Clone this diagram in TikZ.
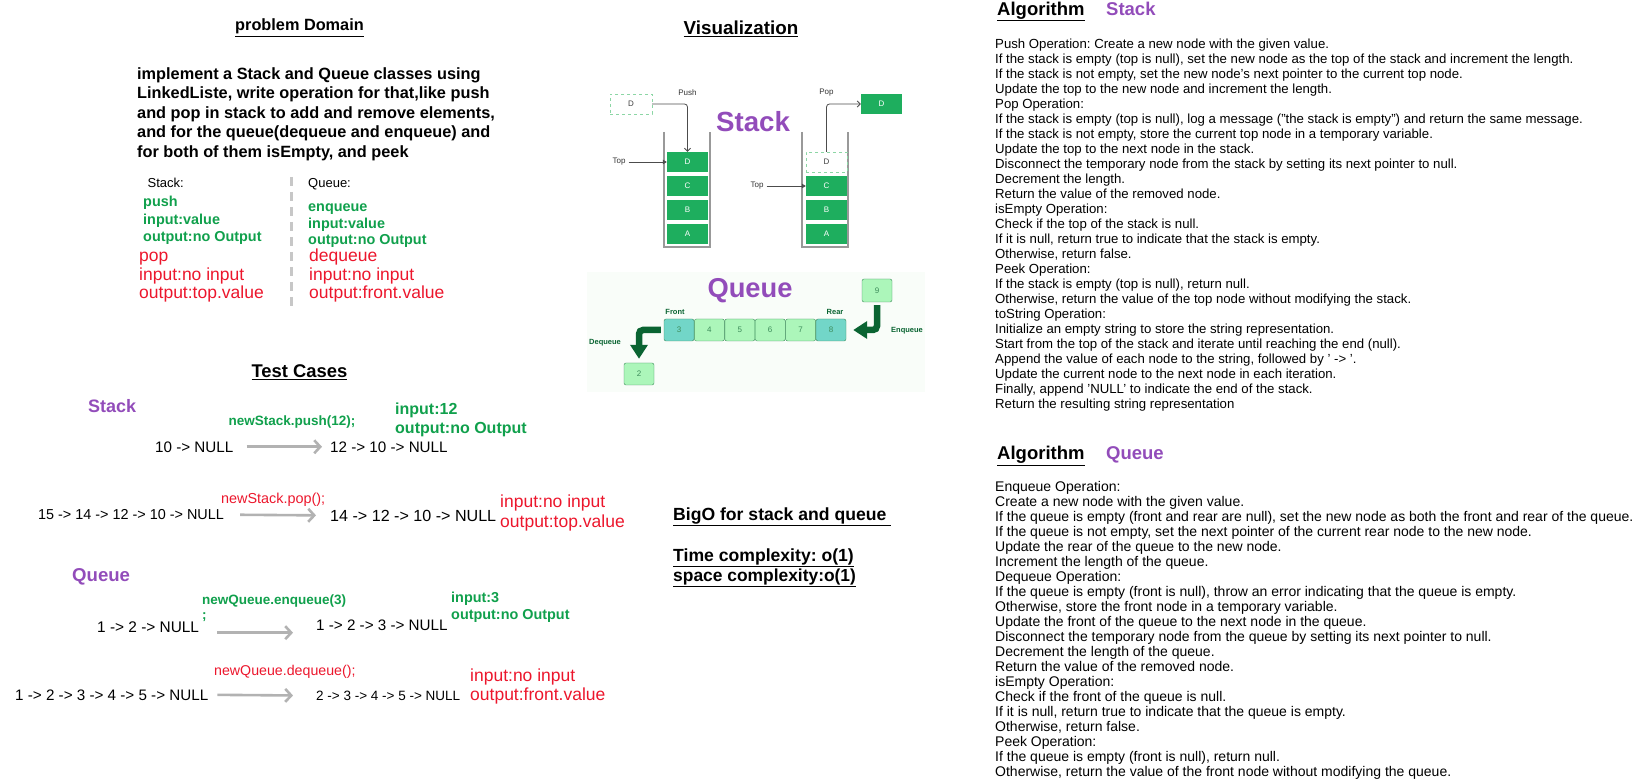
\documentclass[tikz,border=0pt]{standalone}
\usepackage{fontspec}
\setmainfont{Liberation Sans}
\usetikzlibrary{positioning,arrows.meta,calc}
\definecolor{pdGreen}{RGB}{16,160,76}
\definecolor{pdRed}{RGB}{236,22,44}
\definecolor{pdPurple}{RGB}{146,76,186}
\definecolor{vsGreen}{RGB}{30,174,94}
\definecolor{vsGhost}{RGB}{140,214,165}
\definecolor{qLight}{RGB}{172,246,186}
\definecolor{qTeal}{RGB}{114,214,200}
\definecolor{qEdge}{RGB}{60,140,90}
\definecolor{qDark}{RGB}{10,100,50}
\definecolor{qPanel}{RGB}{249,253,249}
\newcommand{\pdfs}[2]{\fontsize{#1}{#2}\selectfont}
\frenchspacing
\tikzset{
  pdtxt/.style={inner sep=0pt, anchor=base west},
  pdblock/.style={inner sep=0pt, anchor=north west, align=left},
  pdgreen/.style={pdtxt, text=pdGreen, font=\pdfs{14.4}{17}\bfseries},
  pdred/.style={pdtxt, text=pdRed, font=\pdfs{17.5}{19}},
  pdpurple/.style={pdtxt, text=pdPurple, font=\pdfs{18.5}{20}\bfseries},
  tcplain/.style={pdtxt, font=\pdfs{15.2}{17}},
  tcarrow/.style={draw=black!30, line width=2.6pt, -{Straight Barb[length=6pt,width=13pt]}},
  stkcell/.style={fill=vsGreen, minimum width=41pt, minimum height=20pt, inner sep=0pt,
                  text=white, font=\pdfs{8}{9}},
  stkghost/.style={stkcell, fill=white, draw=vsGhost, dashed, text=black!75},
  stkwall/.style={draw=black!40, line width=1.1pt},
  stklab/.style={inner sep=0pt, font=\pdfs{8}{9}, text=black!80},
  stkarrow/.style={draw=black!70, line width=0.8pt},
  qcell/.style={draw=qEdge, fill=qLight, rounded corners=2pt, minimum width=30pt,
                minimum height=22pt, inner sep=0pt, text=qEdge, font=\pdfs{8}{9}},
  qlab/.style={inner sep=0pt, text=qDark, font=\pdfs{7.5}{9}\bfseries},
  qarrow/.style={draw=qDark, line width=6.5pt, -{Triangle[length=14pt,width=17pt]}},
}

\begin{document}
\begin{tikzpicture}[x=1pt,y=-1pt]
  \useasboundingbox (0,0) rectangle (1636,783);

  % problem domain
  \node[pdtxt, anchor=base, font=\pdfs{16.3}{18}\bfseries] (pdTitle) at (299.5,31) {\underline{problem Domain}};
  \node[pdblock, font=\pdfs{16.3}{19.5}\bfseries] (pdText) at (137,67.3)
    {implement a Stack and Queue classes using\\
     LinkedListe, write operation for that,like push\\
     and pop in stack to add and remove elements,\\
     and for the queue(dequeue and enqueue) and\\
     for both of them isEmpty, and peek};
  \node[pdtxt, font=\pdfs{13}{15}] (pdStack) at (147.5,187.2) {Stack:};
  \node[pdgreen] (pdPush) at (143,206.6) {push};
  \node[pdgreen] (pdPushIn) at (143,224.3) {input:value};
  \node[pdgreen] (pdPushOut) at (143,242) {output:no Output};
  \node[pdred] (pdPop) at (139,261.6) {pop};
  \node[pdred] (pdPopIn) at (139,280.1) {input:no input};
  \node[pdred] (pdPopOut) at (139,298.6) {output:top.value};
  \draw[draw=black!22, line width=3pt, dash pattern=on 9pt off 6pt] (291,177) -- (291,310);
  \node[pdtxt, font=\pdfs{13}{15}] (pdQueue) at (308,187.2) {Queue:};
  \node[pdgreen] (pdEnq) at (308,211.6) {enqueue};
  \node[pdgreen] (pdEnqIn) at (308,228.3) {input:value};
  \node[pdgreen] (pdEnqOut) at (308,245) {output:no Output};
  \node[pdred] (pdDeq) at (309,261.6) {dequeue};
  \node[pdred] (pdDeqIn) at (309,280.1) {input:no input};
  \node[pdred] (pdDeqOut) at (309,298.6) {output:front.value};

  % visualization: stack
  \node[pdtxt, anchor=base, font=\pdfs{18.8}{20}\bfseries] (vsTitle) at (741,34.5) {\underline{Visualization}};
  \draw[stkwall] (664,132) -- (664,247) -- (710,247) -- (710,132);
  \node[stkcell] (lD) at (687.5,162) {D};
  \node[stkcell] (lC) at (687.5,186) {C};
  \node[stkcell] (lB) at (687.5,210) {B};
  \node[stkcell] (lA) at (687.5,234) {A};
  \node[stkghost, minimum width=42pt] (pushD) at (631,104) {D};
  \node[stklab] (pushLab) at (687.5,93) {Push};
  \node[stklab] (topL) at (619,162) {Top};
  \draw[stkarrow, rounded corners=3pt, -{Straight Barb[length=3pt,width=6pt]}] (pushD.east) -| (lD.north);
  \draw[stkarrow, -{Triangle[length=4pt,width=4.5pt]}, shorten <=3pt] (topL.east) -- (lD.west);

  \draw[stkwall] (802,132) -- (802,247) -- (848,247) -- (848,132);
  \node[stkghost] (rD) at (826.5,162) {D};
  \node[stkcell] (rC) at (826.5,186) {C};
  \node[stkcell] (rB) at (826.5,210) {B};
  \node[stkcell] (rA) at (826.5,234) {A};
  \node[stkcell] (popD) at (881.5,104) {D};
  \node[stklab] (popLab) at (826.5,93) {Pop};
  \node[stklab] (topR) at (757,186) {Top};
  \draw[stkarrow, rounded corners=3pt, -{Straight Barb[length=3pt,width=6pt]}] (rD.north) |- (popD.west);
  \draw[stkarrow, -{Triangle[length=4pt,width=4.5pt]}, shorten <=3pt] (topR.east) -- (rC.west);
  \node[inner sep=0pt, text=pdPurple, font=\pdfs{27.7}{30}\bfseries] (vsStack) at (753,122) {Stack};

  % visualization: queue
  \fill[qPanel] (587,272) rectangle (925,392);
  \node[inner sep=0pt, text=pdPurple, font=\pdfs{27.3}{30}\bfseries] (vsQueue) at (750,291) {Queue};
  \node[qcell, fill=qTeal] (q3) at (679,330) {3};
  \node[qcell, right=0pt of q3] (q4) {4};
  \node[qcell, right=0pt of q4] (q5) {5};
  \node[qcell, right=0pt of q5] (q6) {6};
  \node[qcell, right=0pt of q6] (q7) {7};
  \node[qcell, fill=qTeal, right=0pt of q7] (q8) {8};
  \node[qcell, minimum height=23pt] (q9) at (877,290.5) {9};
  \node[qcell] (q2) at (639,374) {2};
  \node[qlab] (qFront) at (675,312) {Front};
  \node[qlab] (qRear) at (835,312) {Rear};
  \node[qlab] (qEnq) at (907,331) {Enqueue};
  \node[qlab] (qDeq) at (605,343) {Dequeue};
  \draw[qarrow, rounded corners=4pt, shorten <=3pt, shorten >=7pt] (q9.south) |- (q8.east);
  \draw[qarrow, rounded corners=4pt, shorten <=3pt, shorten >=4pt] (q3.west) -| (q2.north);

  % test cases
  \node[pdtxt, anchor=base, font=\pdfs{18.4}{20}\bfseries] (tcTitle) at (299.5,378) {\underline{Test Cases}};
  \node[pdpurple, font=\pdfs{18}{20}\bfseries] (tcStack) at (88,412.8) {Stack};
  \node[pdtxt, anchor=base, text=pdGreen, font=\pdfs{13.5}{15}\bfseries] (tcPush) at (292,425.3) {newStack.push(12);};
  \node[pdgreen, font=\pdfs{16}{18}\bfseries] (tcPushIn) at (395,414) {input:12};
  \node[pdgreen, font=\pdfs{16}{18}\bfseries] (tcPushOut) at (395,433) {output:no Output};
  \node[tcplain] (tcS1a) at (155,452) {10 -> NULL};
  \node[tcplain] (tcS1b) at (330,452) {12 -> 10 -> NULL};
  \draw[tcarrow, shorten <=13pt, shorten >=8pt] (tcS1a.east) -- (tcS1b.west);

  \node[pdtxt, text=pdRed, font=\pdfs{14.4}{16}] (tcPop) at (221,503.6) {newStack.pop();};
  \node[tcplain, font=\pdfs{14.4}{16}] (tcS2a) at (38,519.6) {15 -> 14 -> 12 -> 10 -> NULL};
  \node[tcplain, font=\pdfs{16.1}{18}] (tcS2b) at (330,521) {14 -> 12 -> 10 -> NULL};
  \draw[tcarrow, shorten <=16pt, shorten >=14pt] (tcS2a.east) -- (tcS2b.west);
  \node[pdred] (tcPopIn) at (500,507.6) {input:no input};
  \node[pdred] (tcPopOut) at (500,527.3) {output:top.value};

  \node[pdpurple, font=\pdfs{18.6}{20}\bfseries] (tcQueue) at (72,581) {Queue};
  \node[pdblock, text=pdGreen, font=\pdfs{13.5}{14.7}\bfseries] (tcEnq) at (202,594.5) {newQueue.enqueue(3)\\;};
  \node[pdgreen] (tcEnqIn) at (451,602.6) {input:3};
  \node[pdgreen] (tcEnqOut) at (451,619.2) {output:no Output};
  \node[tcplain, font=\pdfs{15.4}{17}] (tcQ1a) at (97,632) {1 -> 2 -> NULL};
  \node[tcplain] (tcQ1b) at (316,630) {1 -> 2 -> 3 -> NULL};
  \draw[tcarrow] ($(tcQ1a.east)+(18,6)$) -- ($(tcQ1a.east -| tcQ1b.west)+(-23,6)$);

  \node[pdtxt, text=pdRed, font=\pdfs{14.2}{16}] (tcDeq) at (214,675.5) {newQueue.dequeue();};
  \node[tcplain] (tcQ2a) at (15,700) {1 -> 2 -> 3 -> 4 -> 5 -> NULL};
  \node[tcplain, font=\pdfs{13.5}{15}] (tcQ2b) at (316,700.3) {2 -> 3 -> 4 -> 5 -> NULL};
  \draw[tcarrow, shorten <=9pt, shorten >=23pt] (tcQ2a.east) -- (tcQ2b.west);
  \node[pdred] (tcDeqIn) at (470,681.6) {input:no input};
  \node[pdred] (tcDeqOut) at (470,700.6) {output:front.value};

  % big o
  \node[pdtxt, font=\pdfs{17.6}{20}\bfseries] (boTitle) at (673,520) {\underline{BigO for stack and queue\ }};
  \node[pdtxt, font=\pdfs{17.6}{20}\bfseries] (boTime) at (673,561) {\underline{Time complexity: o(1)}};
  \node[pdtxt, font=\pdfs{17.4}{20}\bfseries] (boSpace) at (673,581) {\underline{space complexity:o(1)}};

  % algorithm stack
  \node[pdtxt, font=\pdfs{18.5}{20}\bfseries] (alStackHead) at (997,15.3) {\underline{Algorithm}};
  \node[pdpurple] (alStackName) at (1106,15.3) {Stack};
  \node[pdblock, font=\pdfs{13.2}{15}] (alStackText) at (995,38.9)
    {Push Operation: Create a new node with the given value.\\
     If the stack is empty (top is null), set the new node as the top of the stack and increment the length.\\
     If the stack is not empty, set the new node's next pointer to the current top node.\\
     Update the top to the new node and increment the length.\\
     Pop Operation:\\
     If the stack is empty (top is null), log a message ("the stack is empty") and return the same message.\\
     If the stack is not empty, store the current top node in a temporary variable.\\
     Update the top to the next node in the stack.\\
     Disconnect the temporary node from the stack by setting its next pointer to null.\\
     Decrement the length.\\
     Return the value of the removed node.\\
     isEmpty Operation:\\
     Check if the top of the stack is null.\\
     If it is null, return true to indicate that the stack is empty.\\
     Otherwise, return false.\\
     Peek Operation:\\
     If the stack is empty (top is null), return null.\\
     Otherwise, return the value of the top node without modifying the stack.\\
     toString Operation:\\
     Initialize an empty string to store the string representation.\\
     Start from the top of the stack and iterate until reaching the end (null).\\
     Append the value of each node to the string, followed by ' -> '.\\
     Update the current node to the next node in each iteration.\\
     Finally, append 'NULL' to indicate the end of the stack.\\
     Return the resulting string representation};

  % algorithm queue
  \node[pdtxt, font=\pdfs{18.5}{20}\bfseries] (alQueueHead) at (997,460) {\underline{Algorithm}};
  \node[pdpurple] (alQueueName) at (1106,460) {Queue};
  \node[pdblock, font=\pdfs{14}{15}] (alQueueText) at (995,481.3)
    {Enqueue Operation:\\
     Create a new node with the given value.\\
     If the queue is empty (front and rear are null), set the new node as both the front and rear of the queue.\\
     If the queue is not empty, set the next pointer of the current rear node to the new node.\\
     Update the rear of the queue to the new node.\\
     Increment the length of the queue.\\
     Dequeue Operation:\\
     If the queue is empty (front is null), throw an error indicating that the queue is empty.\\
     Otherwise, store the front node in a temporary variable.\\
     Update the front of the queue to the next node in the queue.\\
     Disconnect the temporary node from the queue by setting its next pointer to null.\\
     Decrement the length of the queue.\\
     Return the value of the removed node.\\
     isEmpty Operation:\\
     Check if the front of the queue is null.\\
     If it is null, return true to indicate that the queue is empty.\\
     Otherwise, return false.\\
     Peek Operation:\\
     If the queue is empty (front is null), return null.\\
     Otherwise, return the value of the front node without modifying the queue.};
\end{tikzpicture}
\end{document}
